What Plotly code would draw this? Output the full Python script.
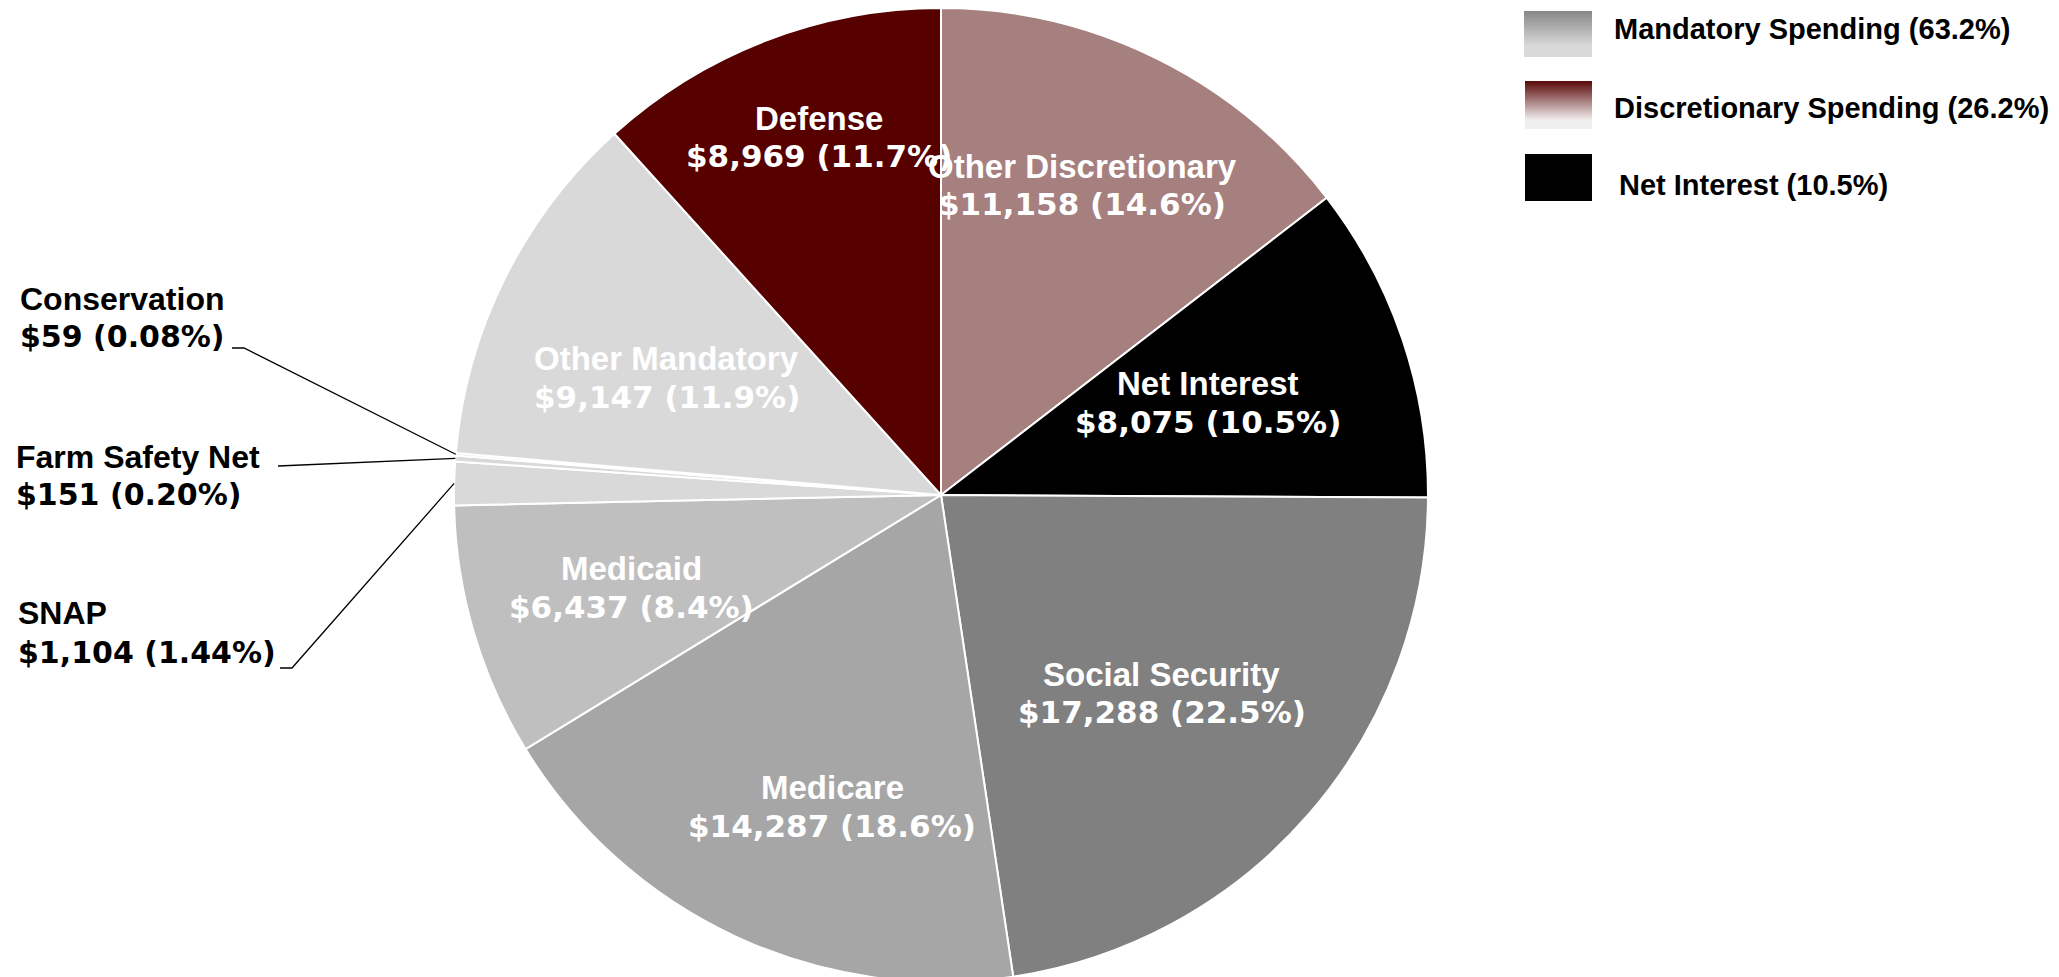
import math
import plotly.graph_objects as go

# ---------------- data ----------------
labels = ["Other Discretionary", "Net Interest", "Social Security", "Medicare",
          "Medicaid", "SNAP", "Farm Safety Net", "Conservation",
          "Other Mandatory", "Defense"]
values = [11158, 8075, 17288, 14287, 6437, 1104, 151, 59, 9147, 8969]
pct_text = ["14.6%", "10.5%", "22.5%", "18.6%", "8.4%", "1.44%", "0.20%",
            "0.08%", "11.9%", "11.7%"]

legend_groups = ["Mandatory Spending", "Discretionary Spending", "Net Interest"]
legend_pct = ["63.2%", "26.2%", "10.5%"]

# ---------------- style ----------------
W, H = 2059, 977
OFF = 8            # page offset of the figure (body margin)
M_T, M_B = 0, 3
PLOT_H = H - M_T - M_B
NAME_FONT = "Liberation Sans"
NUM_FONT = "DejaVu Sans"

slice_colors = ["#a67f7f", "#000000", "#808080", "#a6a6a6", "#bfbfbf",
                "#d9d9d9", "#d9d9d9", "#d9d9d9", "#d9d9d9", "#560000"]

dom_xc = 933 / W
dom_x = [dom_xc - 0.245, dom_xc + 0.245]
dom_y = [0.0, 1.0]

# inside label placement: (radius fraction, angular nudge in degrees)
inside_style = {
    "Other Discretionary": (0.699, -1.7),
    "Net Interest": (0.58, -0.4),
    "Social Security": (0.609, 1.0),
    "Medicare": (0.678, -5.8),
    "Medicaid": (0.663, -0.4),
    "Other Mandatory": (0.612, -3.3),
    "Defense": (0.776, 2.2),
}
# outside labels: text left x, line centres y, leader-line start points (page px)
outside_style = {
    "Conservation": dict(x=18, y1=299, y2=336, pts=[(232, 348), (244, 348)]),
    "Farm Safety Net": dict(x=14, y1=457, y2=494, pts=[(278, 466)]),
    "SNAP": dict(x=16, y1=613, y2=652, pts=[(280, 668), (292, 668)]),
}
IN_NAME_SIZE, IN_NUM_SIZE = 33, 31
OUT_NAME_SIZE, OUT_NUM_SIZE = 32, 30
LEGEND_SIZE = 29
IN_GAP, OUT_GAP = 38, 37


def fx(px):
    return (px - OFF) / W


def fy(py):
    return 1 - (py - OFF - M_T) / PLOT_H


# pie geometry (page pixels), derived from the domain
cx = OFF + (dom_x[0] + dom_x[1]) / 2 * W
cy = OFF + M_T + (1 - (dom_y[0] + dom_y[1]) / 2) * PLOT_H
R = min((dom_x[1] - dom_x[0]) * W, (dom_y[1] - dom_y[0]) * PLOT_H) / 2

total = sum(values)
mid_angles = {}
acc = 0
for lab, v in zip(labels, values):
    mid_angles[lab] = (acc + v / 2) / total * 360.0
    acc += v

fig = go.Figure()
fig.add_trace(go.Pie(
    labels=labels, values=values, sort=False, direction="clockwise",
    rotation=0, textinfo="none", hoverinfo="skip", showlegend=False,
    marker=dict(colors=slice_colors, line=dict(color="white", width=2)),
    domain=dict(x=dom_x, y=dom_y),
))

annotations = []
shapes = []


def fmt_val(v):
    return "${:,}".format(v)


def add_text(x, y, txt, family, size, color, xanchor):
    annotations.append(dict(
        x=fx(x), y=fy(y), xref="paper", yref="paper",
        text=f"<b>{txt}</b>", showarrow=False, xanchor=xanchor,
        yanchor="middle", font=dict(family=family, size=size, color=color)))


for lab, v, p in zip(labels, values, pct_text):
    if lab in inside_style:
        frac, nudge = inside_style[lab]
        th = math.radians(mid_angles[lab] + nudge)
        px = cx + frac * R * math.sin(th)
        py = cy - frac * R * math.cos(th)
        add_text(px, py - IN_GAP / 2, lab, NAME_FONT, IN_NAME_SIZE, "white", "center")
        add_text(px, py + IN_GAP / 2, f"{fmt_val(v)} ({p})", NUM_FONT, IN_NUM_SIZE,
                 "white", "center")
    elif lab in outside_style:
        st = outside_style[lab]
        add_text(st["x"], st["y1"], lab, NAME_FONT, OUT_NAME_SIZE, "black", "left")
        add_text(st["x"], st["y2"], f"{fmt_val(v)} ({p})", NUM_FONT, OUT_NUM_SIZE,
                 "black", "left")
        th = math.radians(mid_angles[lab])
        ex = cx + R * math.sin(th)
        ey = cy - R * math.cos(th)
        pts = st["pts"] + [(ex, ey)]
        path = "M " + " L ".join(f"{fx(a):.5f},{fy(b):.5f}" for a, b in pts)
        shapes.append(dict(type="path", path=path, xref="paper", yref="paper",
                           line=dict(color="black", width=1.3)))

# ---------------- legend (gradient boxes) ----------------
legend_boxes = [
    dict(x0=1524, x1=1592, y0=11, y1=57,
         stops=[(0.0, (135, 135, 135)), (0.75, (217, 217, 217)), (1.0, (217, 217, 217))]),
    dict(x0=1525, x1=1592, y0=81, y1=129,
         stops=[(0.0, (90, 8, 8)), (0.8, (240, 236, 236)), (1.0, (240, 240, 240))]),
    dict(x0=1525, x1=1592, y0=154, y1=201,
         stops=[(0.0, (0, 0, 0)), (1.0, (0, 0, 0))]),
]
legend_text_x = [1612, 1612, 1617]
legend_text_y = [29, 108, 185]


def interp(stops, t):
    for (t0, c0), (t1, c1) in zip(stops[:-1], stops[1:]):
        if t0 <= t <= t1:
            f = 0 if t1 == t0 else (t - t0) / (t1 - t0)
            return tuple(round(a + (b - a) * f) for a, b in zip(c0, c1))
    return stops[-1][1]


N_STRIPES = 40
for box in legend_boxes:
    # base rectangle in the bottom colour, stripes layered on top
    shapes.append(dict(type="rect", xref="paper", yref="paper",
                       x0=fx(box["x0"]), x1=fx(box["x1"]),
                       y0=fy(box["y1"]), y1=fy(box["y0"]),
                       fillcolor=f"rgb{box['stops'][-1][1]}", line=dict(width=0)))
    if box["stops"][0][1] == box["stops"][-1][1]:
        continue
    hgt = box["y1"] - box["y0"]
    for i in range(N_STRIPES):
        ya = box["y0"] + hgt * i / N_STRIPES
        yb = min(box["y0"] + hgt * (i + 1) / N_STRIPES + 1.5, box["y1"])
        c = interp(box["stops"], (i + 0.5) / N_STRIPES)
        shapes.append(dict(type="rect", xref="paper", yref="paper",
                           x0=fx(box["x0"]), x1=fx(box["x1"]),
                           y0=fy(yb), y1=fy(ya),
                           fillcolor=f"rgb{c}", line=dict(width=0)))

for name, pct, tx, ty in zip(legend_groups, legend_pct, legend_text_x, legend_text_y):
    add_text(tx, ty, f"{name} ({pct})", NAME_FONT, LEGEND_SIZE, "black", "left")

fig.update_layout(
    width=W, height=H,
    margin=dict(l=0, r=0, t=M_T, b=M_B),
    paper_bgcolor="white", plot_bgcolor="white",
    annotations=annotations, shapes=shapes,
    showlegend=False,
)

fig.write_html("out.html")
